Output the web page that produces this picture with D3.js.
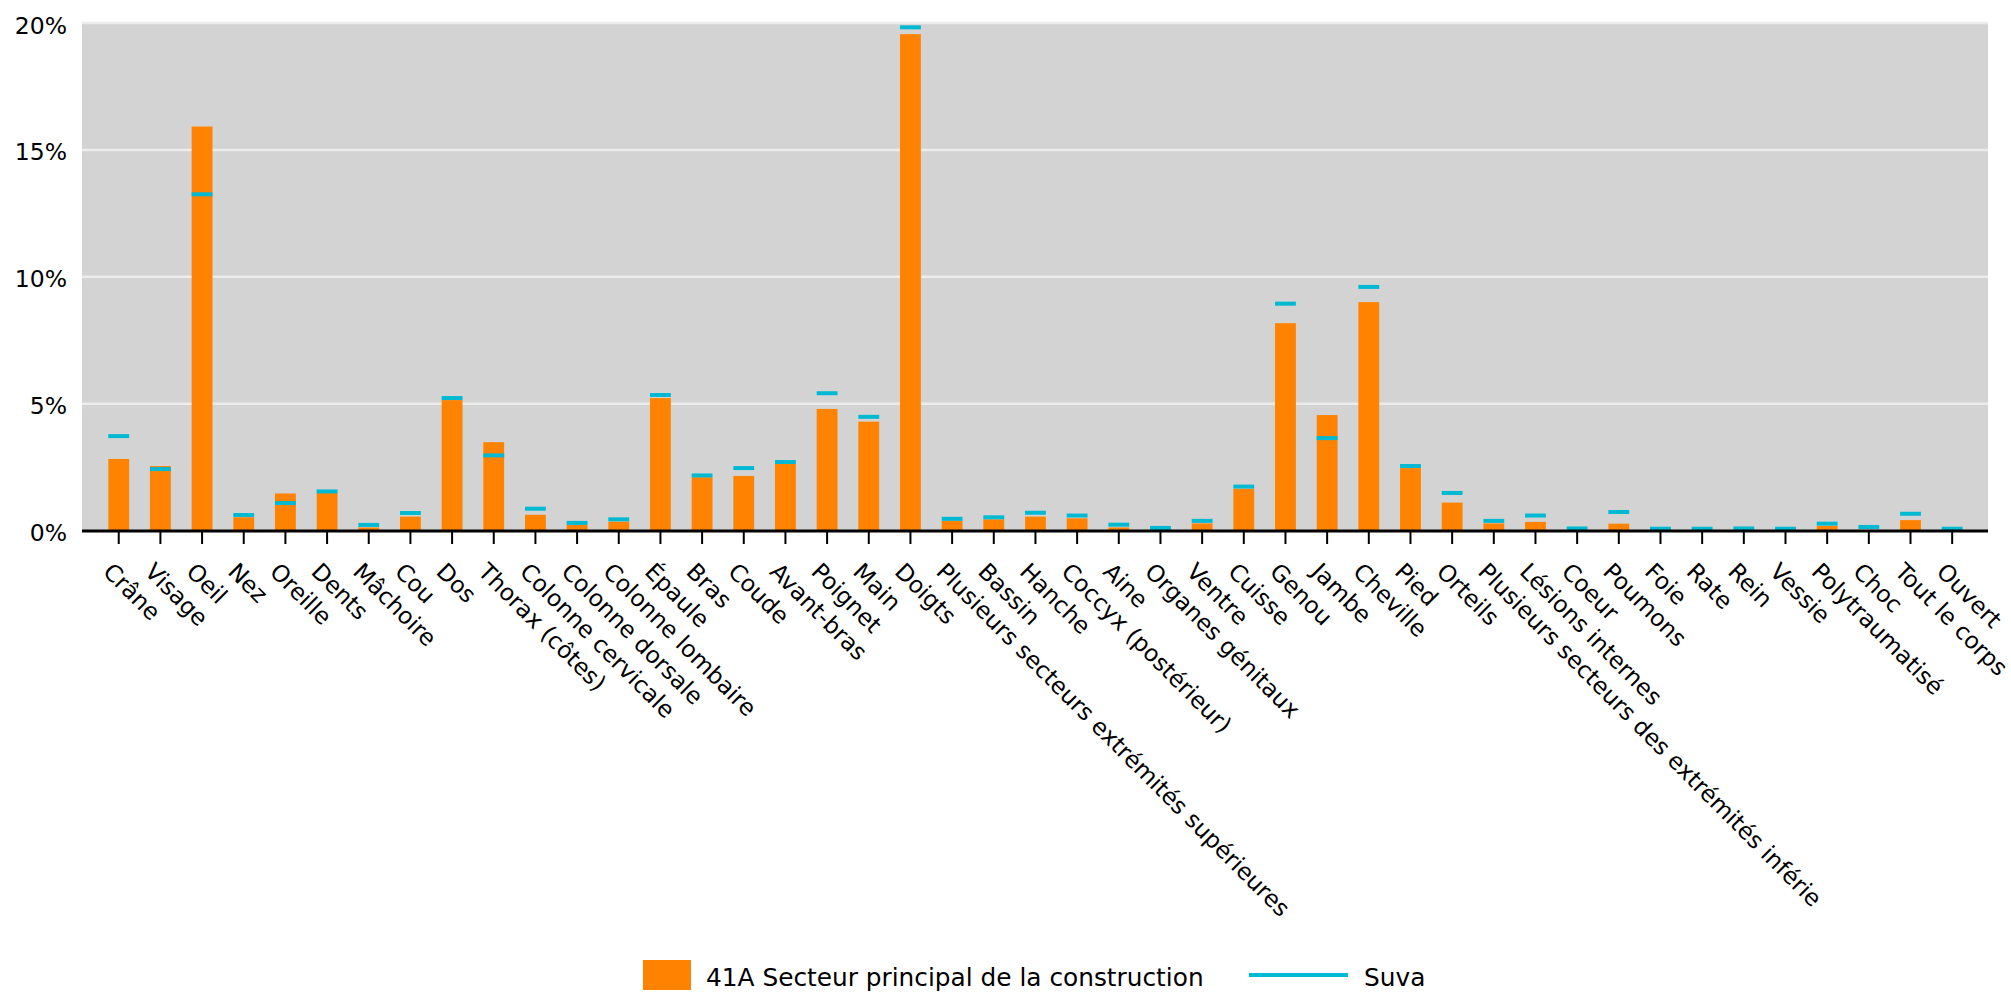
<!DOCTYPE html>
<html>
<head>
<meta charset="utf-8">
<script src="https://cdn.jsdelivr.net/npm/d3@7/dist/d3.min.js"></script>
<style>
  body { margin: 0; background: #fff; }
  text { font-family: "DejaVu Sans", Verdana, sans-serif; fill: #000; }
</style>
</head>
<body>
<div id="chart"></div>
<script>
// categories (body parts)
var categories = ["Crâne", "Visage", "Oeil", "Nez", "Oreille", "Dents", "Mâchoire", "Cou", "Dos",
  "Thorax (côtes)", "Colonne cervicale", "Colonne dorsale", "Colonne lombaire", "Épaule", "Bras",
  "Coude", "Avant-bras", "Poignet", "Main", "Doigts", "Plusieurs secteurs extrémités supérieures",
  "Bassin", "Hanche", "Coccyx (postérieur)", "Aine", "Organes génitaux", "Ventre", "Cuisse", "Genou",
  "Jambe", "Cheville", "Pied", "Orteils", "Plusieurs secteurs des extrémités inférie",
  "Lésions internes", "Coeur", "Poumons", "Foie", "Rate", "Rein", "Vessie", "Polytraumatisé",
  "Choc", "Tout le corps", "Ouvert"];

// 41A Secteur principal de la construction (%)
var construction = [2.80, 2.52, 15.9, 0.50, 1.44, 1.47, 0.10, 0.53, 5.12,
  3.46, 0.60, 0.20, 0.33, 5.20, 2.08,
  2.13, 2.61, 4.77, 4.27, 19.54, 0.36,
  0.42, 0.53, 0.46, 0.10, 0.02, 0.26, 1.62, 8.15,
  4.53, 8.98, 2.44, 1.08, 0.26,
  0.32, 0.01, 0.25, 0, 0, 0, 0, 0.16,
  0, 0.39, 0];

// Suva (%)
var suva = [3.70, 2.40, 13.23, 0.59, 1.06, 1.52, 0.20, 0.67, 5.20,
  2.94, 0.84, 0.28, 0.42, 5.32, 2.15,
  2.44, 2.68, 5.39, 4.46, 19.81, 0.44,
  0.50, 0.68, 0.57, 0.21, 0.08, 0.36, 1.71, 8.92,
  3.62, 9.58, 2.52, 1.46, 0.36,
  0.57, 0.06, 0.71, 0.05, 0.05, 0.06, 0.05, 0.25,
  0.12, 0.64, 0.05];

var yTicks = [0, 5, 10, 15, 20];
var seriesNames = ["41A Secteur principal de la construction", "Suva"];

var W = 2011, H = 992;
var plot = {left: 82, right: 1988, top: 22.5, bottom: 530};

var svg = d3.select("#chart").append("svg")
  .attr("width", W).attr("height", H);

// scales
var x = d3.scaleBand()
  .domain(categories)
  .range([97.9, 1973])
  .paddingInner(0.5)
  .paddingOuter(0.25);

var y = d3.scaleLinear()
  .domain([0, 20])
  .range([plot.bottom, plot.top]);

// plot background
svg.append("rect")
  .attr("x", plot.left).attr("y", plot.top)
  .attr("width", plot.right - plot.left)
  .attr("height", plot.bottom - plot.top)
  .attr("fill", "#d3d3d3");

// y axis + gridlines
var yAxis = svg.append("g")
  .attr("transform", "translate(" + plot.left + ",0)")
  .call(d3.axisLeft(y).tickValues(yTicks)
    .tickSize(-(plot.right - plot.left))
    .tickPadding(15)
    .tickFormat(function(d) { return d + "%"; }));
yAxis.select(".domain").remove();
yAxis.selectAll(".tick line")
  .attr("stroke", "#ececec")
  .attr("stroke-width", 2.5)
  .filter(function(d) { return d === 0; }).remove();
yAxis.selectAll(".tick text")
  .style("font-size", "23.5px")
  .attr("dy", "0.45em");

// bars
svg.append("g").selectAll("rect")
  .data(categories)
  .enter().append("rect")
    .attr("x", function(d) { return x(d); })
    .attr("y", function(d, i) { return y(construction[i]); })
    .attr("width", x.bandwidth())
    .attr("height", function(d, i) { return y(0) - y(construction[i]); })
    .attr("fill", "#ff8300");

// suva markers
svg.append("g").selectAll("rect")
  .data(categories)
  .enter().append("rect")
    .attr("x", function(d) { return x(d); })
    .attr("y", function(d, i) { return y(suva[i]) - 2; })
    .attr("width", x.bandwidth())
    .attr("height", 4)
    .attr("fill", "#00b9d2");

// x axis
var xAxis = svg.append("g")
  .attr("transform", "translate(0," + (plot.bottom + 1) + ")")
  .call(d3.axisBottom(x).tickSize(13).tickFormat(""));
xAxis.select(".domain").remove();
xAxis.selectAll(".tick line").attr("stroke", "#000").attr("stroke-width", 2);

svg.append("line")
  .attr("x1", plot.left).attr("x2", plot.right)
  .attr("y1", plot.bottom + 1).attr("y2", plot.bottom + 1)
  .attr("stroke", "#000").attr("stroke-width", 3);

// rotated category labels
svg.append("g").selectAll("text")
  .data(categories)
  .enter().append("text")
    .attr("transform", function(d) {
      return "translate(" + (x(d) + x.bandwidth() / 2 - 17) + ",573) rotate(45)";
    })
    .style("font-size", "23.3px")
    .text(function(d) { return d; });

// legend
var legend = svg.append("g");
legend.append("rect")
  .attr("x", 643).attr("y", 960).attr("width", 48).attr("height", 30)
  .attr("fill", "#ff8300");
legend.append("text")
  .attr("x", 706).attr("y", 986)
  .style("font-size", "24.8px")
  .text(seriesNames[0]);
legend.append("line")
  .attr("x1", 1249).attr("x2", 1348).attr("y1", 975).attr("y2", 975)
  .attr("stroke", "#00b9d2").attr("stroke-width", 4);
legend.append("text")
  .attr("x", 1364).attr("y", 986)
  .style("font-size", "24.8px")
  .text(seriesNames[1]);
</script>
</body>
</html>
